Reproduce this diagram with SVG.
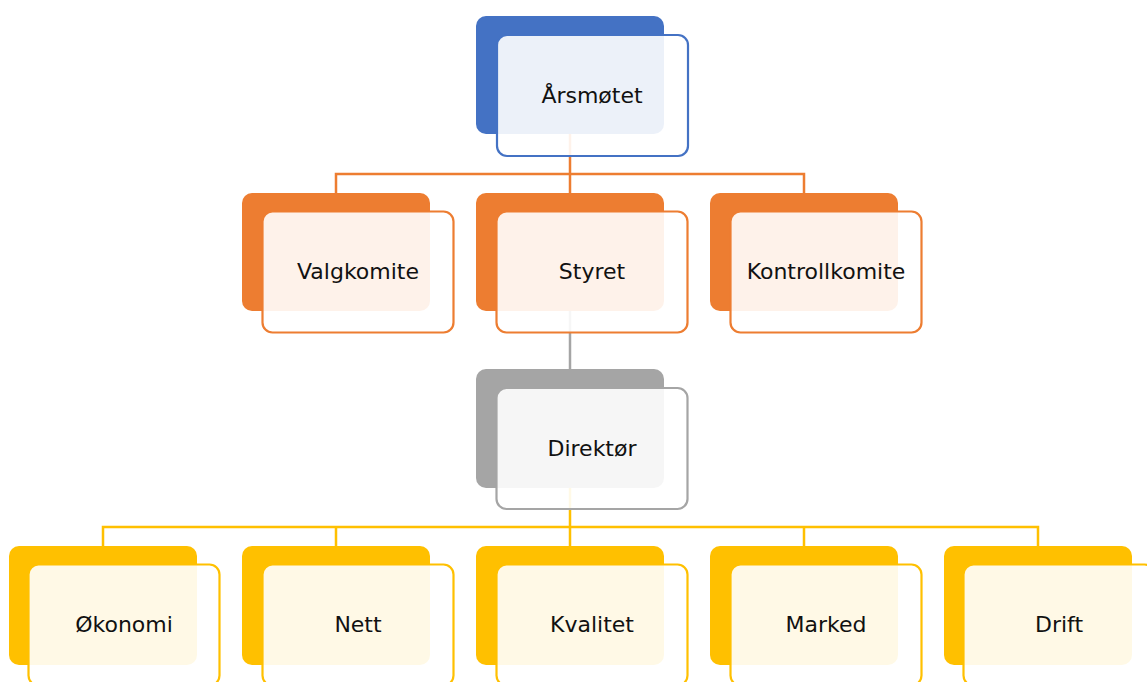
<svg xmlns="http://www.w3.org/2000/svg" width="1147" height="682" viewBox="0 0 1147 682">
<style>
.back{stroke:none}
.front{fill:#ffffff;fill-opacity:0.9;stroke-width:2.2}
.blue .back{fill:#4472C4}.blue .front{stroke:#4472C4}
.orange .back{fill:#ED7D31}.orange .front{stroke:#ED7D31}
.gray .back{fill:#A5A5A5}.gray .front{stroke:#A5A5A5}
.yellow .back{fill:#FFC000}.yellow .front{stroke:#FFC000}
.lbl{font-family:"DejaVu Sans","Liberation Sans",sans-serif;font-size:22px;fill:#111111;text-anchor:middle}
.c{fill:none;stroke-width:2.5}
</style>
<rect width="1147" height="682" fill="#ffffff"/>
<g id="connectors">
<path class="c" stroke="#ED7D31" d="M570,134 V174 M336,193 V174 H804 V193 M570,174 V193"/>
<path class="c" stroke="#A5A5A5" d="M570,311 V369"/>
<path class="c" stroke="#FFC000" d="M570,488 V527 M103,546 V527 H1038 V546 M336,527 V546 M570,527 V546 M804,527 V546"/>
</g>
<g id="n-arsmotet" class="blue">
<rect class="back" x="476" y="16" width="188" height="118" rx="10"/>
<rect class="front" x="497" y="35" width="191" height="121" rx="10"/>
<text class="lbl" x="592" y="103">Årsmøtet</text>
</g>
<g id="n-valgkomite" class="orange">
<rect class="back" x="242" y="193" width="188" height="118" rx="10"/>
<rect class="front" x="262.5" y="211.5" width="191" height="121" rx="10"/>
<text class="lbl" x="358" y="279">Valgkomite</text>
</g>
<g id="n-styret" class="orange">
<rect class="back" x="476" y="193" width="188" height="118" rx="10"/>
<rect class="front" x="496.5" y="211.5" width="191" height="121" rx="10"/>
<text class="lbl" x="592" y="279">Styret</text>
</g>
<g id="n-kontrollkomite" class="orange">
<rect class="back" x="710" y="193" width="188" height="118" rx="10"/>
<rect class="front" x="730.5" y="211.5" width="191" height="121" rx="10"/>
<text class="lbl" x="826" y="279">Kontrollkomite</text>
</g>
<g id="n-direktor" class="gray">
<rect class="back" x="476" y="369" width="188" height="119" rx="10"/>
<rect class="front" x="496.5" y="388" width="191" height="121" rx="10"/>
<text class="lbl" x="592" y="456">Direktør</text>
</g>
<g id="n-okonomi" class="yellow">
<rect class="back" x="9" y="546" width="188" height="119" rx="10"/>
<rect class="front" x="28.5" y="564.5" width="191" height="121" rx="10"/>
<text class="lbl" x="124" y="632">Økonomi</text>
</g>
<g id="n-nett" class="yellow">
<rect class="back" x="242" y="546" width="188" height="119" rx="10"/>
<rect class="front" x="262.5" y="564.5" width="191" height="121" rx="10"/>
<text class="lbl" x="358" y="632">Nett</text>
</g>
<g id="n-kvalitet" class="yellow">
<rect class="back" x="476" y="546" width="188" height="119" rx="10"/>
<rect class="front" x="496.5" y="564.5" width="191" height="121" rx="10"/>
<text class="lbl" x="592" y="632">Kvalitet</text>
</g>
<g id="n-marked" class="yellow">
<rect class="back" x="710" y="546" width="188" height="119" rx="10"/>
<rect class="front" x="730.5" y="564.5" width="191" height="121" rx="10"/>
<text class="lbl" x="826" y="632">Marked</text>
</g>
<g id="n-drift" class="yellow">
<rect class="back" x="944" y="546" width="188" height="119" rx="10"/>
<rect class="front" x="963.5" y="564.5" width="191" height="121" rx="10"/>
<text class="lbl" x="1059" y="632">Drift</text>
</g>
</svg>
